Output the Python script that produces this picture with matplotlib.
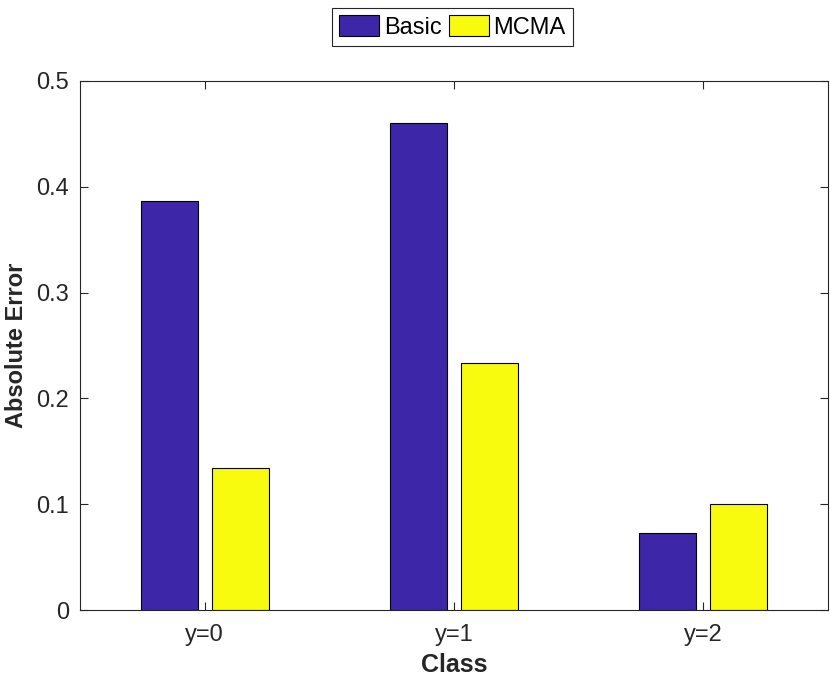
import matplotlib
matplotlib.use("Agg")
import matplotlib.pyplot as plt
import numpy as np

plt.rcParams['font.family'] = ['Liberation Sans', 'DejaVu Sans']

categories = ['y=0', 'y=1', 'y=2']
basic = [0.387, 0.460, 0.073]
mcma = [0.134, 0.233, 0.100]
series_names = ['Basic', 'MCMA']
yticks = [0, 0.1, 0.2, 0.3, 0.4, 0.5]
ytick_labels = ['0', '0.1', '0.2', '0.3', '0.4', '0.5']

fig = plt.figure(figsize=(8.3, 6.8), dpi=100)
ax = fig.add_axes([0.0964, 0.1029, 0.9012, 0.778])

x = np.arange(1, len(categories) + 1)
w = 0.2286
off = 0.1429
b1 = ax.bar(x - off, basic, w, color='#3E26A8', edgecolor='black', linewidth=0.8, label=series_names[0])
b2 = ax.bar(x + off, mcma, w, color='#F9FB0E', edgecolor='black', linewidth=0.8, label=series_names[1])

ax.set_xlim(0.5, 3.5)
ax.set_ylim(0, 0.5)
ax.set_xticks(x)
ax.set_xticklabels(categories)
ax.set_yticks(yticks)
ax.set_yticklabels(ytick_labels)
dark = '#262626'
for s in ax.spines.values():
    s.set_color(dark)
    s.set_linewidth(0.8)
ax.tick_params(direction='in', top=True, right=True, length=6, width=0.8,
               colors=dark, labelsize=17, labelcolor=dark)
ax.tick_params(axis='x', pad=10)
ax.tick_params(axis='y', pad=8)
ax.set_xlabel('Class', fontsize=18, fontweight='bold', color=dark, labelpad=5)
ax.set_ylabel('Absolute Error', fontsize=17, fontweight='bold', color=dark, labelpad=6)

leg = fig.legend(handles=[b1, b2], labels=series_names, loc='upper center',
                 bbox_to_anchor=(0.545, 0.988), ncol=2, fontsize=17,
                 handlelength=1.7, handleheight=1.0, handletextpad=0.2,
                 columnspacing=0.3, borderpad=0.3, borderaxespad=0, fancybox=False,
                 framealpha=1, edgecolor=dark)
leg.get_frame().set_linewidth(0.8)

fig.savefig('out.png', dpi=100)
